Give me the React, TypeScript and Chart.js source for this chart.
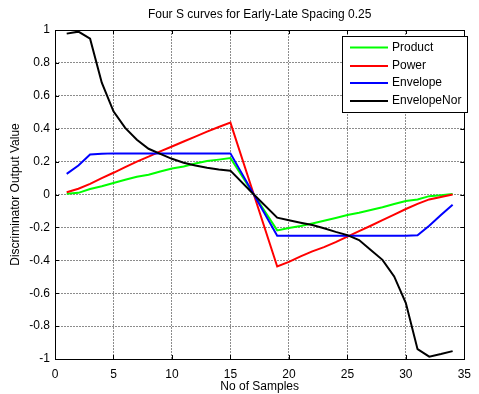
import React, { useEffect, useRef } from "react";
import { Chart, registerables } from "chart.js";

Chart.register(...registerables);

const TITLE = "Four S curves for Early-Late Spacing 0.25";
const X_LABEL = "No of Samples";
const Y_LABEL = "Discriminator Output Value";

const samples = [1, 2, 3, 4, 5, 6, 7, 8, 9, 10, 11, 12, 13, 14, 15, 17, 19, 20, 21, 22, 23, 24, 25, 26, 27, 28, 29, 30, 31, 32, 33, 34];

const product = [0.004, 0.01, 0.033, 0.05, 0.07, 0.09, 0.108, 0.12, 0.14, 0.158, 0.17, 0.188, 0.203, 0.212, 0.222, 0, -0.218, -0.204, -0.192, -0.176, -0.16, -0.143, -0.125, -0.111, -0.094, -0.078, -0.058, -0.04, -0.03, -0.01, -0.005, 0.003];
const power = [0.014, 0.035, 0.065, 0.1, 0.132, 0.166, 0.2, 0.23, 0.262, 0.292, 0.322, 0.352, 0.382, 0.41, 0.437, 0, -0.438, -0.41, -0.376, -0.346, -0.32, -0.29, -0.256, -0.223, -0.19, -0.156, -0.122, -0.088, -0.057, -0.03, -0.015, 0];
const envelope = [0.125, 0.176, 0.243, 0.248, 0.25, 0.25, 0.25, 0.25, 0.25, 0.25, 0.25, 0.25, 0.25, 0.25, 0.25, 0, -0.25, -0.25, -0.25, -0.25, -0.25, -0.25, -0.25, -0.25, -0.25, -0.25, -0.25, -0.25, -0.248, -0.19, -0.125, -0.063];
const envelopeNor = [0.978, 0.99, 0.947, 0.68, 0.506, 0.405, 0.333, 0.278, 0.247, 0.217, 0.193, 0.176, 0.162, 0.152, 0.145, 0, -0.141, -0.157, -0.172, -0.186, -0.205, -0.227, -0.247, -0.277, -0.337, -0.397, -0.498, -0.66, -0.94, -0.986, -0.97, -0.952];

const seriesNames = ["Product", "Power", "Envelope", "EnvelopeNor"];
const seriesColors = ["#00ff00", "#ff0000", "#0000ff", "#000000"];
const seriesValues = [product, power, envelope, envelopeNor];

const xTicks = [0, 5, 10, 15, 20, 25, 30, 35];
const yTicks = [-1, -0.8, -0.6, -0.4, -0.2, 0, 0.2, 0.4, 0.6, 0.8, 1];

const FONT_FAMILY = "'Liberation Sans', Arial, Helvetica, sans-serif";

const framePlugin = {
  id: "matlabFrame",
  afterDraw(chart: any) {
    const { ctx, chartArea, scales } = chart;
    const { left, right, top, bottom } = chartArea;
    ctx.save();
    // title
    ctx.fillStyle = "#000";
    ctx.font = `12px ${FONT_FAMILY}`;
    ctx.textAlign = "center";
    ctx.textBaseline = "middle";
    ctx.fillText(TITLE, (left + right) / 2, 15);

    // frame
    ctx.strokeStyle = "#000";
    ctx.lineWidth = 1;
    ctx.strokeRect(Math.round(left) + 0.5, Math.round(top) + 0.5, Math.round(right - left), Math.round(bottom - top));
    // inward ticks
    const tl = 4;
    ctx.beginPath();
    xTicks.forEach((v) => {
      const x = Math.round(scales.x.getPixelForValue(v)) + 0.5;
      ctx.moveTo(x, bottom);
      ctx.lineTo(x, bottom - tl);
      ctx.moveTo(x, top);
      ctx.lineTo(x, top + tl);
    });
    yTicks.forEach((v) => {
      const y = Math.round(scales.y.getPixelForValue(v)) + 0.5;
      ctx.moveTo(left, y);
      ctx.lineTo(left + tl, y);
      ctx.moveTo(right, y);
      ctx.lineTo(right - tl, y);
    });
    ctx.stroke();

    // legend
    const lx = 342, ly = 36, lw = 125, lh = 76;
    ctx.fillStyle = "#fff";
    ctx.fillRect(lx, ly, lw, lh);
    ctx.strokeStyle = "#000";
    ctx.lineWidth = 1;
    ctx.strokeRect(lx + 0.5, ly + 0.5, lw, lh);
    const rows = [47.5, 66, 83, 101];
    chart.data.datasets.forEach((ds: any, i: number) => {
      const y = rows[i];
      ctx.strokeStyle = ds.borderColor;
      ctx.lineWidth = 2;
      ctx.beginPath();
      ctx.moveTo(350, y);
      ctx.lineTo(388, y);
      ctx.stroke();
      ctx.fillStyle = "#000";
      ctx.textAlign = "left";
      ctx.textBaseline = "middle";
      ctx.font = `12px ${FONT_FAMILY}`;
      ctx.fillText(ds.label, 392, y);
    });
    ctx.restore();
  },
};

export default function App() {
  const ref = useRef<HTMLCanvasElement | null>(null);

  useEffect(() => {
    if (!ref.current) return;
    const datasets = seriesNames.map((name, i) => ({
      label: name,
      data: samples.map((x, j) => ({ x, y: seriesValues[i][j] })),
      borderColor: seriesColors[i],
      backgroundColor: seriesColors[i],
      borderWidth: 2,
      pointRadius: 0,
      tension: 0,
      fill: false,
      order: seriesNames.length - i,
    }));
    const tickFont = { family: FONT_FAMILY, size: 12 };
    const chart = new Chart(ref.current, {
      type: "line",
      data: { datasets },
      plugins: [framePlugin],
      options: {
        animation: false,
        responsive: false,
        devicePixelRatio: 1,
        parsing: false,
        layout: { padding: { top: 30, right: 4, left: 0, bottom: 0 } },
        plugins: {
          legend: { display: false },
          title: { display: false },
          tooltip: { enabled: false },
        },
        scales: {
          x: {
            type: "linear",
            min: 0,
            max: 35,
            afterBuildTicks: (s: any) => {
              s.ticks = xTicks.map((v) => ({ value: v }));
            },
            afterFit: (s: any) => {
              s.height = 35;
            },
            ticks: {
              color: "#000",
              font: tickFont,
              padding: 8,
              maxRotation: 0,
              autoSkip: false,
              callback: (v: any) => String(v),
            },
            grid: { color: "#8c8c8c", lineWidth: 1, drawTicks: false },
            border: { display: false, dash: [2, 1] },
            title: {
              display: true,
              text: X_LABEL,
              color: "#000",
              font: tickFont,
              padding: { top: 0, bottom: 0 },
            },
          },
          y: {
            type: "linear",
            min: -1,
            max: 1,
            afterBuildTicks: (s: any) => {
              s.ticks = yTicks.map((v) => ({ value: v }));
            },
            afterFit: (s: any) => {
              s.width = 55;
            },
            ticks: {
              color: "#000",
              font: tickFont,
              padding: 5,
              autoSkip: false,
              callback: (v: any) => String(Math.round(v * 10) / 10),
            },
            grid: { color: "#8c8c8c", lineWidth: 1, drawTicks: false },
            border: { display: false, dash: [2, 1] },
            title: {
              display: true,
              text: Y_LABEL,
              color: "#000",
              font: tickFont,
              padding: { top: 8, bottom: 0 },
            },
          },
        },
      } as any,
    });
    return () => chart.destroy();
  }, []);

  return (
    <div style={{ position: "fixed", left: 0, top: 0, width: 479, height: 394, background: "#fff" }}>
      <canvas ref={ref} width={479} height={394} style={{ width: 479, height: 394, display: "block" }} />
    </div>
  );
}
